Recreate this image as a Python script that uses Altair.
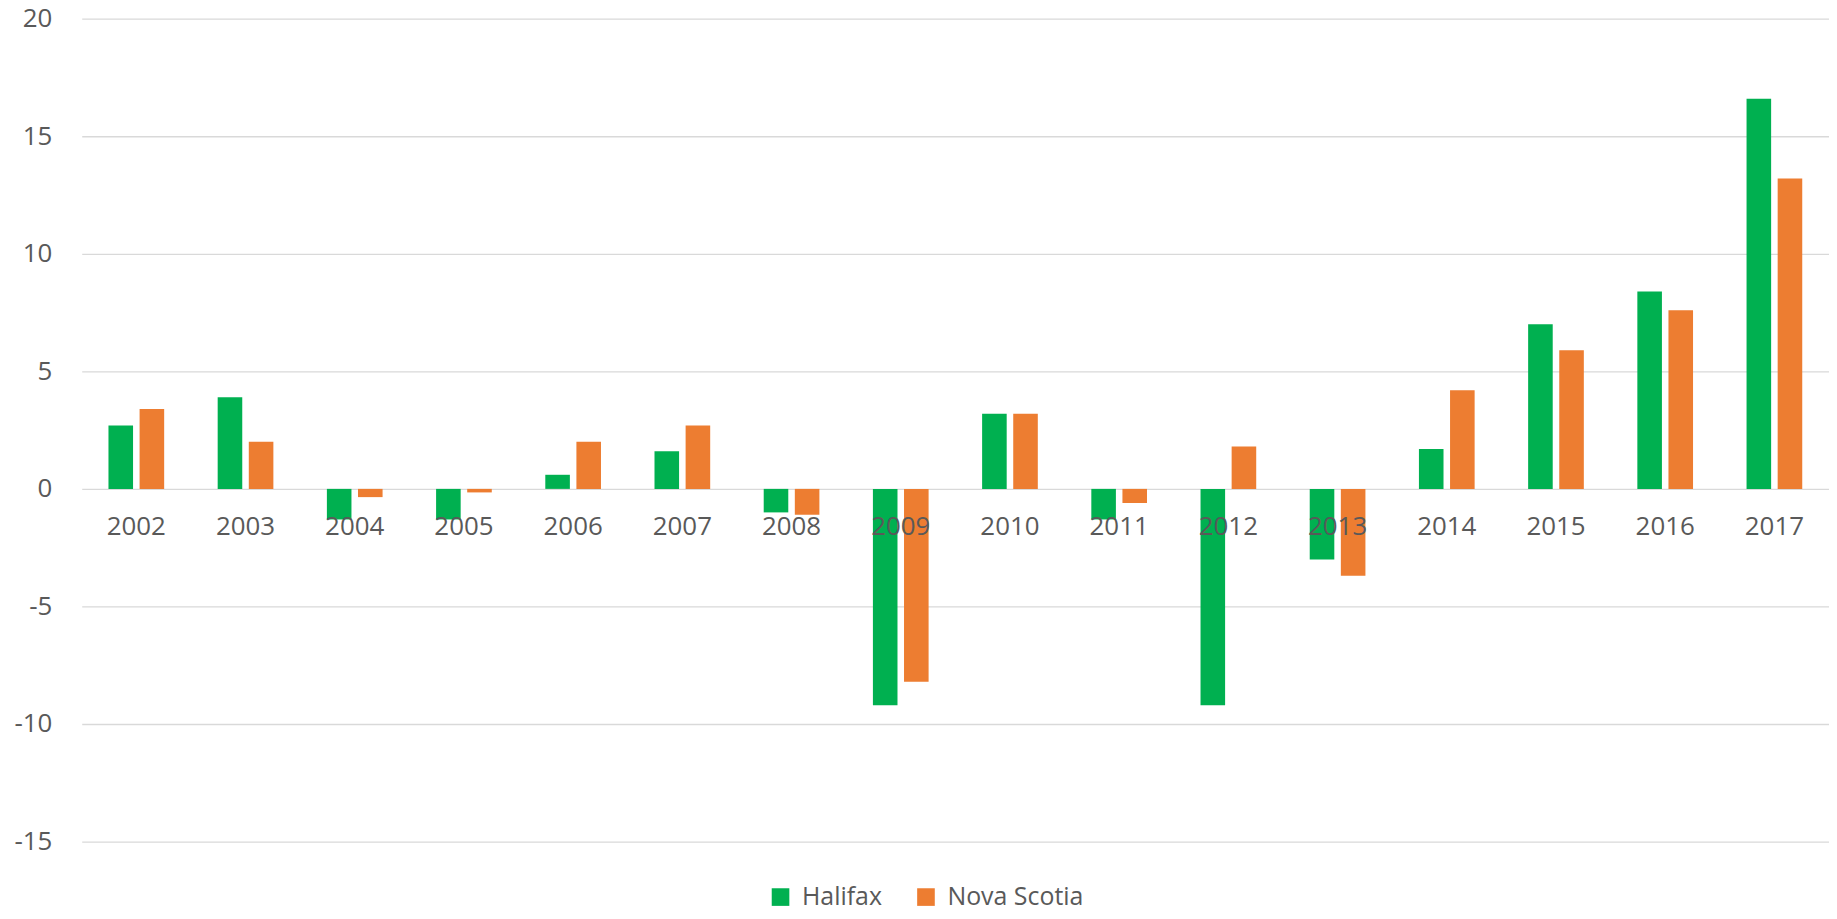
import altair as alt
import pandas as pd

years = [str(y) for y in range(2002, 2018)]
halifax = [2.7, 3.9, -1.3, -1.3, 0.6, 1.6, -1.0, -9.2, 3.2, -1.3, -9.2, -3.0, 1.7, 7.0, 8.4, 16.6]
nova_scotia = [3.4, 2.0, -0.35, -0.15, 2.0, 2.7, -1.1, -8.2, 3.2, -0.6, 1.8, -3.7, 4.2, 5.9, 7.6, 13.2]
series_names = ["Halifax", "Nova Scotia"]
series_colors = ["#00B050", "#ED7D31"]
y_ticks = [-15, -10, -5, 0, 5, 10, 15, 20]

rows = []
for i, yr in enumerate(years):
    rows.append({"year": yr, "series": "Halifax", "value": halifax[i]})
    rows.append({"year": yr, "series": "Nova Scotia", "value": nova_scotia[i]})
df = pd.DataFrame(rows)

PLOT_W = 1754
PLOT_H = 826
ZERO_FROM_BOTTOM = 354

chart = alt.Chart(df).mark_bar().encode(
    x=alt.X(
        "year:N",
        sort=years,
        scale=alt.Scale(paddingInner=0.49, paddingOuter=0.245),
        axis=alt.Axis(
            title=None,
            labelAngle=0,
            domain=False,
            ticks=False,
            grid=False,
            labelFontSize=26,
            labelColor="#595959",
            labelFont="Open Sans",
            labelPadding=25,
            offset=-ZERO_FROM_BOTTOM,
            zindex=1,
        ),
    ),
    xOffset=alt.XOffset(
        "series:N",
        sort=series_names,
        scale=alt.Scale(paddingInner=0.21, paddingOuter=0),
    ),
    y=alt.Y(
        "value:Q",
        scale=alt.Scale(domain=[-15, 20], nice=False, zero=True),
        axis=alt.Axis(
            title=None,
            values=y_ticks,
            domain=False,
            ticks=False,
            grid=True,
            gridColor="#D9D9D9",
            gridWidth=1.3,
            labelFontSize=26,
            labelColor="#595959",
            labelFont="Open Sans",
            labelPadding=30,
            labelExpr="datum.value < 0 ? '-' + abs(datum.value) : '' + datum.value",
        ),
    ),
    color=alt.Color(
        "series:N",
        sort=series_names,
        scale=alt.Scale(domain=series_names, range=series_colors),
        legend=alt.Legend(
            title=None,
            orient="none",
            direction="horizontal",
            legendX=689,
            legendY=869,
            symbolType="square",
            symbolSize=313,
            symbolStrokeWidth=0,
            symbolOpacity=1,
            labelFontSize=25,
            labelFont="Open Sans",
            labelColor="#595959",
            labelOffset=9,
            columnPadding=31,
        ),
    ),
).properties(
    width=PLOT_W,
    height=PLOT_H,
    padding={"left": 74, "top": 9, "right": 0, "bottom": 68},
    autosize=alt.AutoSizeParams(type="none"),
    background="white",
).configure_view(stroke=None)

chart.save("out.html", embed_options={"renderer": "svg", "actions": False})
